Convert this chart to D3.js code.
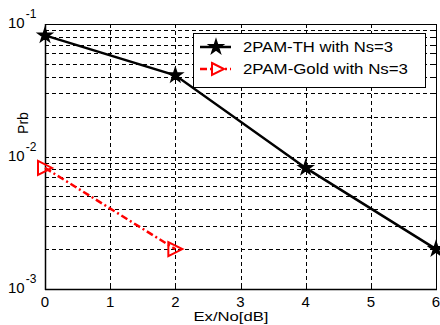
<!DOCTYPE html>
<html>
<head>
<meta charset="utf-8">
<script src="https://cdn.jsdelivr.net/npm/d3@7"></script>
<style>
  body { margin: 0; background: #fff; }
  svg { display: block; font-family: "Liberation Sans", Arial, sans-serif; }
</style>
</head>
<body>
<svg id="chart" width="440" height="325"></svg>
<script>
// Bit error probability vs Ex/No
const snrTH = [0, 2, 4, 6];
const prbTH = [0.082, 0.041, 0.0082, 0.002];
const snrGold = [0, 2];
const prbGold = [0.0082, 0.002];
const xTicks = [0, 1, 2, 3, 4, 5, 6];
const yDecades = [-3, -2, -1];
const seriesNames = ["2PAM-TH with Ns=3", "2PAM-Gold with Ns=3"];

const svg = d3.select("#chart");
const m = { left: 45, right: 436, top: 24, bottom: 289 };

const x = d3.scaleLinear().domain([0, 6]).range([m.left, m.right]);
const y = d3.scaleLog().domain([1e-3, 1e-1]).range([m.bottom, m.top]);

// grid
const grid = svg.append("g").attr("stroke", "#000").attr("stroke-width", 1)
  .attr("stroke-dasharray", "4,3").attr("fill", "none");
xTicks.slice(1, -1).forEach(t => {
  grid.append("line").attr("x1", Math.round(x(t)) + 0.5).attr("x2", Math.round(x(t)) + 0.5)
    .attr("y1", m.top).attr("y2", m.bottom);
});
const minor = [];
[1e-3, 1e-2].forEach(d => { for (let k = 1; k <= 9; k++) if (!(k === 1 && d === 1e-3)) minor.push(k * d); });
minor.forEach(v => {
  const yy = Math.round(y(v)) + 0.5;
  grid.append("line").attr("x1", m.left).attr("x2", m.right).attr("y1", yy).attr("y2", yy);
});

// axes box with inward ticks
const axisG = svg.append("g").attr("stroke", "#000").attr("fill", "none");
axisG.append("rect").attr("x", m.left + 0.5).attr("y", m.top + 0.5)
  .attr("width", m.right - m.left).attr("height", m.bottom - m.top).attr("stroke-width", 1);
axisG.append("line").attr("x1", m.left).attr("x2", m.right + 1)
  .attr("y1", m.bottom + 0.5).attr("y2", m.bottom + 0.5).attr("stroke-width", 1.5);
axisG.append("line").attr("x1", m.left + 0.5).attr("x2", m.left + 0.5)
  .attr("y1", m.top).attr("y2", m.bottom + 1).attr("stroke-width", 1.5);
xTicks.forEach(t => {
  const xx = Math.round(x(t)) + 0.5;
  axisG.append("line").attr("x1", xx).attr("x2", xx).attr("y1", m.bottom).attr("y2", m.bottom - 4);
  axisG.append("line").attr("x1", xx).attr("x2", xx).attr("y1", m.top).attr("y2", m.top + 4);
});
minor.concat([1e-2]).forEach(v => {
  const yy = Math.round(y(v)) + 0.5;
  axisG.append("line").attr("x1", m.left).attr("x2", m.left + 3).attr("y1", yy).attr("y2", yy);
  axisG.append("line").attr("x1", m.right).attr("x2", m.right - 3).attr("y1", yy).attr("y2", yy);
});

// tick labels
const lab = svg.append("g").attr("fill", "#000").attr("font-size", 15);
xTicks.forEach(t => {
  lab.append("text").attr("x", x(t)).attr("y", m.bottom + 18).attr("text-anchor", "middle").text(t);
});
yDecades.forEach(e => {
  const yy = y(Math.pow(10, e));
  const t = lab.append("text").attr("x", 8).attr("y", yy + 4);
  t.append("tspan").text("10");
  t.append("tspan").attr("dy", -10).attr("dx", 1).attr("font-size", 12).text(String(e));
});

// axis titles
svg.append("text").attr("x", 231).attr("y", 321)
  .attr("text-anchor", "middle").attr("font-size", 13)
  .attr("textLength", 75).attr("lengthAdjust", "spacingAndGlyphs").text("Ex/No[dB]");
svg.append("text").attr("transform", "translate(28,123) rotate(-90)")
  .attr("text-anchor", "middle").attr("font-size", 14).text("Prb");

// series
const line = d3.line().x(d => x(d[0])).y(d => y(d[1]));
const thData = snrTH.map((s, i) => [s, prbTH[i]]);
const goldData = snrGold.map((s, i) => [s, prbGold[i]]);

svg.append("path").datum(goldData).attr("d", line).attr("fill", "none")
  .attr("stroke", "#ff0000").attr("stroke-width", 2.5).attr("stroke-dasharray", "7,3,2,3");
svg.append("path").datum(thData).attr("d", line).attr("fill", "none")
  .attr("stroke", "#000").attr("stroke-width", 2.5);

const star = d3.symbol().type(d3.symbolStar).size(60);
function tri(cx, cy, s) {
  return `M${cx - s},${cy - s}L${cx + s},${cy}L${cx - s},${cy + s}Z`;
}
svg.append("g").selectAll("path").data(thData).join("path")
  .attr("transform", d => `translate(${x(d[0])},${y(d[1])})`)
  .attr("d", star).attr("fill", "#000").attr("stroke", "#000").attr("stroke-width", 1.5);
svg.append("g").selectAll("path").data(goldData).join("path")
  .attr("d", d => tri(x(d[0]), y(d[1]), 7))
  .attr("fill", "none").attr("stroke", "#ff0000").attr("stroke-width", 2);

// legend
const lg = svg.append("g");
lg.append("rect").attr("x", 193.5).attr("y", 33.5).attr("width", 232).attr("height", 54)
  .attr("fill", "#fff").attr("stroke", "#000");
lg.append("line").attr("x1", 200).attr("x2", 231).attr("y1", 47).attr("y2", 47)
  .attr("stroke", "#000").attr("stroke-width", 2.5);
lg.append("path").attr("transform", "translate(216,47)").attr("d", star)
  .attr("fill", "#000").attr("stroke", "#000").attr("stroke-width", 1.5);
lg.append("line").attr("x1", 200).attr("x2", 231).attr("y1", 69).attr("y2", 69)
  .attr("stroke", "#ff0000").attr("stroke-width", 2.5).attr("stroke-dasharray", "7,3,2,3");
lg.append("path").attr("d", tri(218, 69, 6)).attr("fill", "#fff").attr("stroke", "#ff0000").attr("stroke-width", 2);
const legendWidths = [150, 165];
seriesNames.forEach((n, i) => {
  lg.append("text").attr("x", 243).attr("y", 52 + i * 22).attr("font-size", 14)
    .attr("textLength", legendWidths[i]).attr("lengthAdjust", "spacingAndGlyphs").text(n);
});
</script>
</body>
</html>
